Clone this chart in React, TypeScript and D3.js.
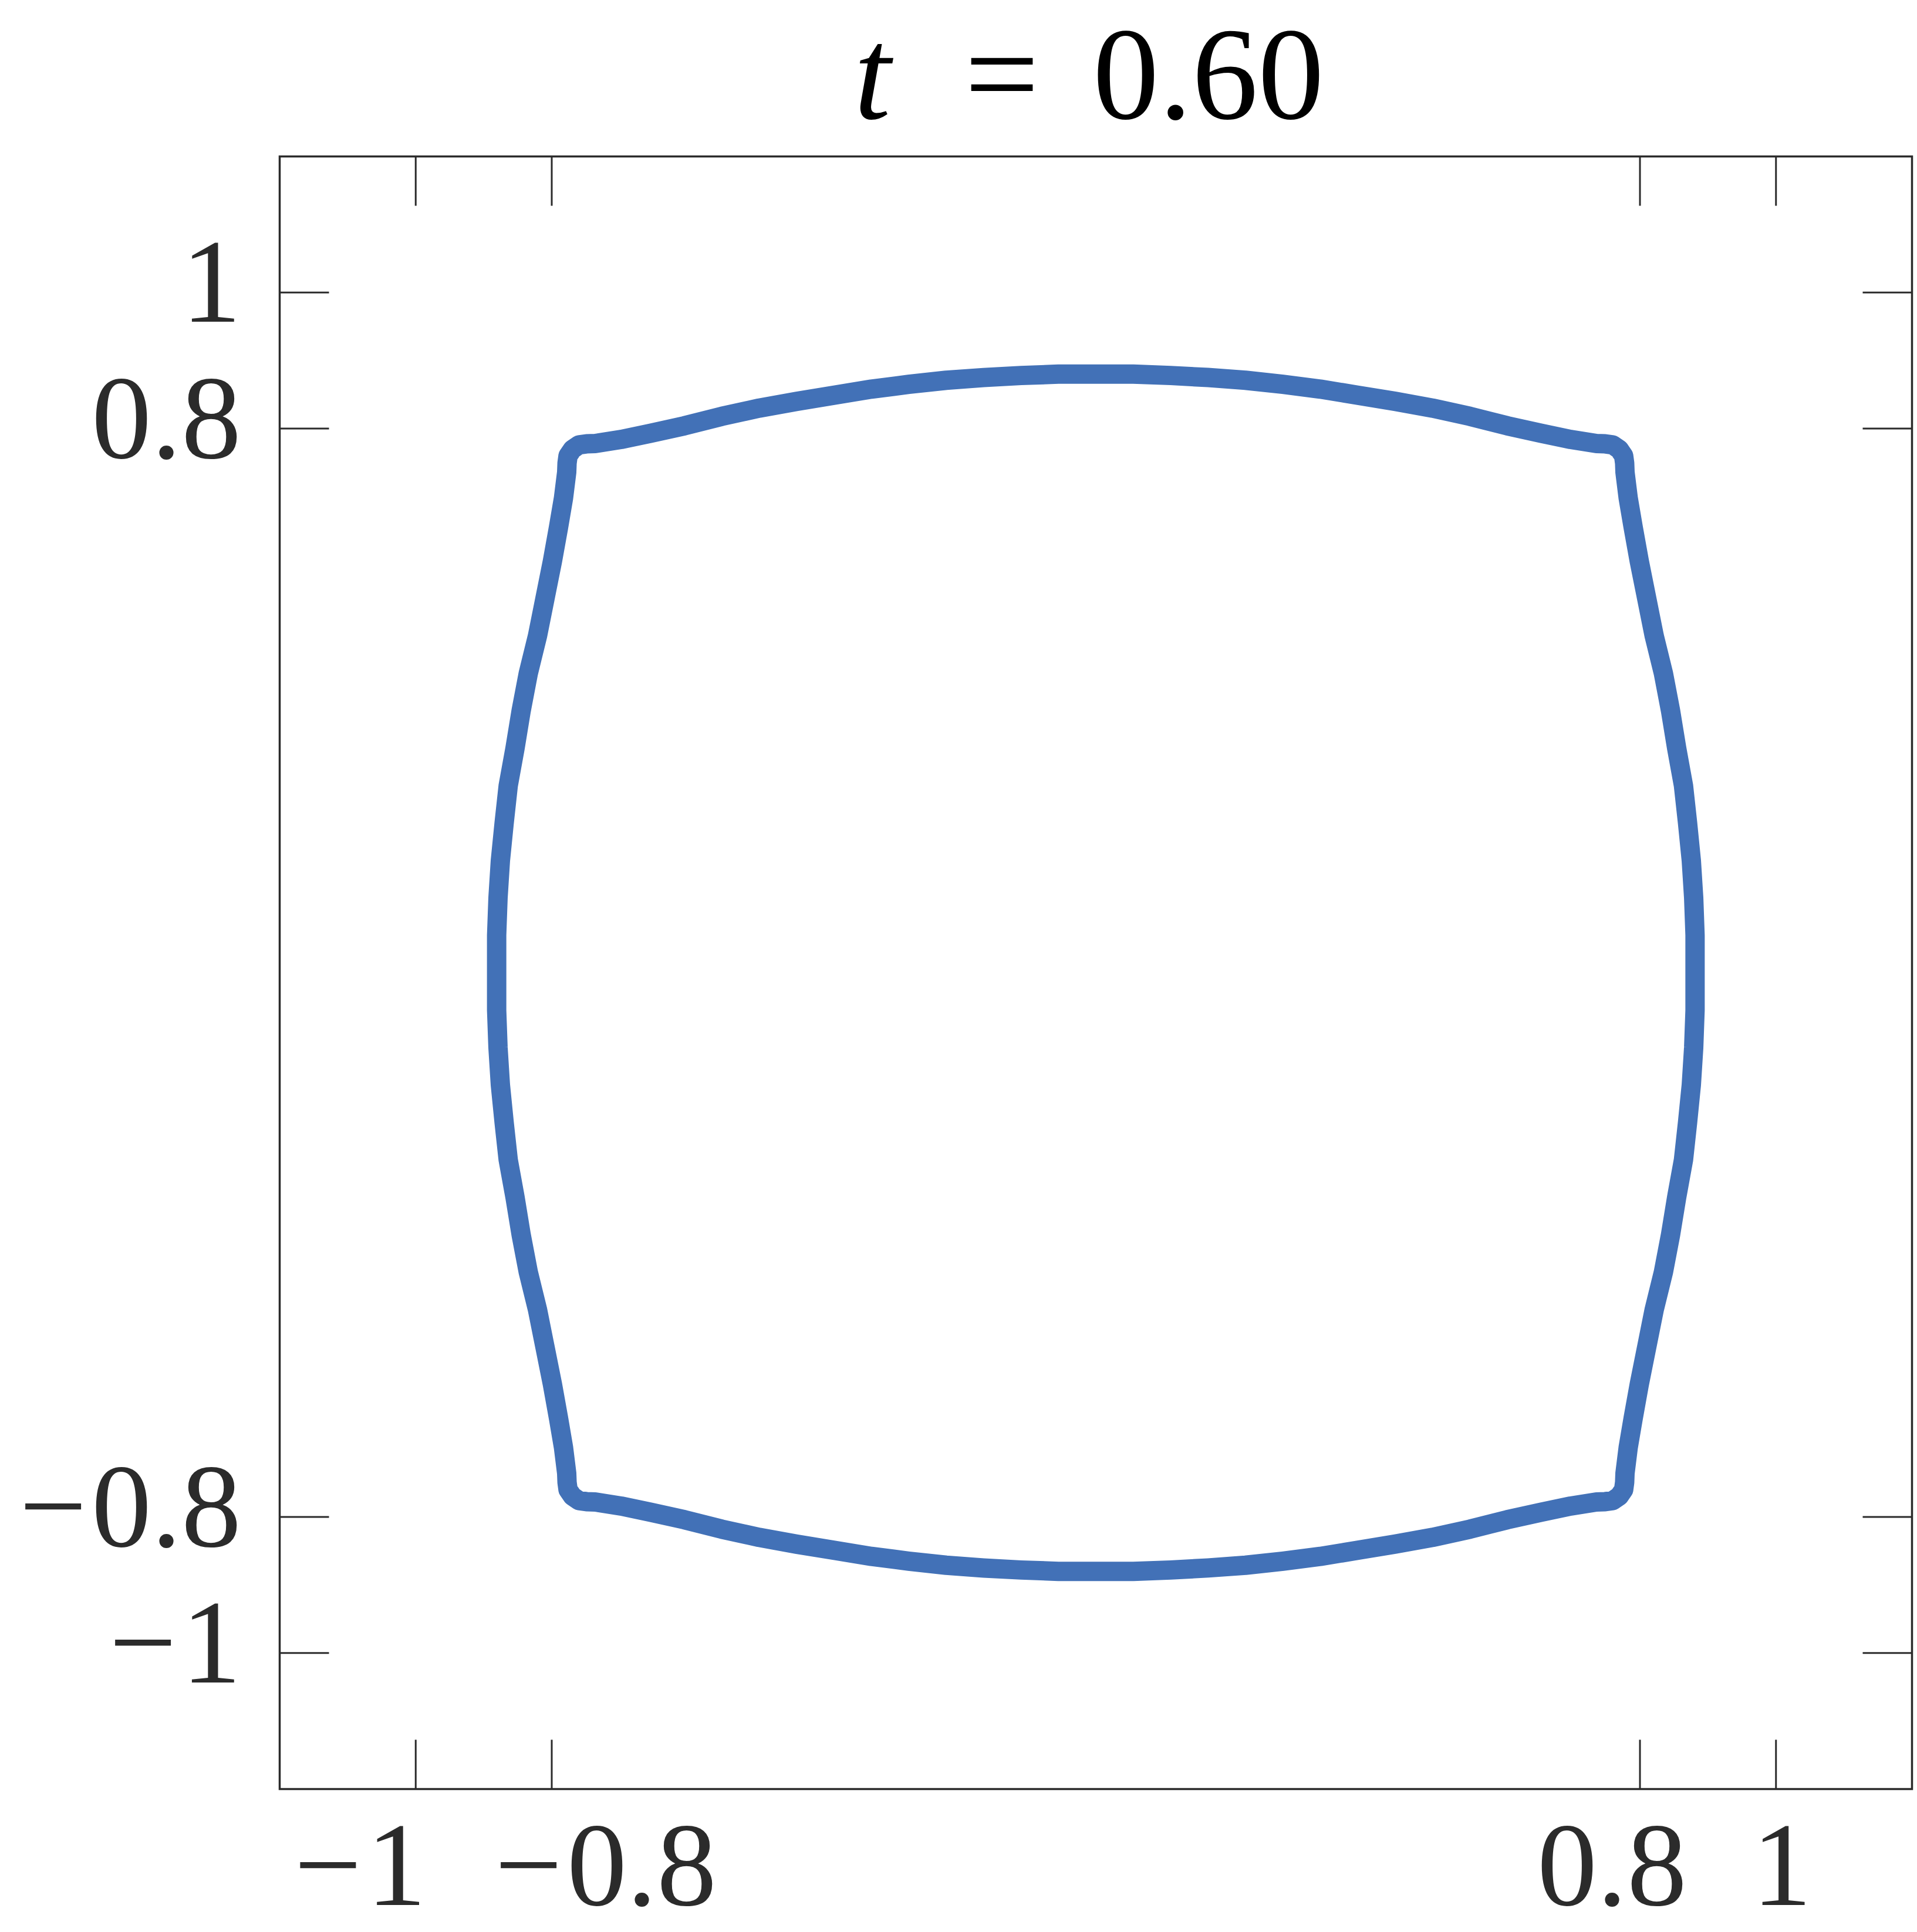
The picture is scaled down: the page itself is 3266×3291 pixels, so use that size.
import React, { useEffect, useRef } from "react";
import * as d3 from "d3";

// interface outline at t = 0.60, clockwise from the top-left corner
const topEdge: [number, number][] = [
  [-0.7695, 0.7695], [-0.76, 0.776], [-0.749, 0.7775], [-0.736, 0.778], [-0.698, 0.784],
  [-0.655, 0.793], [-0.605, 0.804], [-0.55, 0.818], [-0.495, 0.83], [-0.44, 0.84],
  [-0.385, 0.849], [-0.33, 0.858], [-0.275, 0.865], [-0.22, 0.871], [-0.165, 0.875],
  [-0.11, 0.878], [-0.055, 0.88], [0, 0.88], [0.055, 0.88], [0.11, 0.878],
  [0.165, 0.875], [0.22, 0.871], [0.275, 0.865], [0.33, 0.858], [0.385, 0.849],
  [0.44, 0.84], [0.495, 0.83], [0.55, 0.818], [0.605, 0.804], [0.655, 0.793],
  [0.698, 0.784], [0.736, 0.778], [0.749, 0.7775], [0.76, 0.776],
];
const rightEdge: [number, number][] = [
  [0.7695, 0.7695], [0.776, 0.76], [0.7775, 0.749], [0.778, 0.736], [0.7827, 0.698],
  [0.79, 0.655], [0.799, 0.605], [0.81, 0.55], [0.821, 0.495], [0.8345, 0.44],
  [0.845, 0.385], [0.854, 0.33], [0.864, 0.275], [0.87, 0.22], [0.8755, 0.165],
  [0.879, 0.11], [0.881, 0.055], [0.881, 0], [0.881, -0.055], [0.879, -0.11],
  [0.8755, -0.165], [0.87, -0.22], [0.864, -0.275], [0.854, -0.33], [0.845, -0.385],
  [0.8345, -0.44], [0.821, -0.495], [0.81, -0.55], [0.799, -0.605], [0.79, -0.655],
  [0.7827, -0.698], [0.778, -0.736], [0.7775, -0.749], [0.776, -0.76],
];
const bottomEdge: [number, number][] = [
  [0.7695, -0.7695], [0.76, -0.776], [0.749, -0.7775], [0.736, -0.778], [0.698, -0.784],
  [0.655, -0.793], [0.605, -0.804], [0.55, -0.818], [0.495, -0.83], [0.44, -0.84],
  [0.385, -0.849], [0.33, -0.858], [0.275, -0.865], [0.22, -0.871], [0.165, -0.875],
  [0.11, -0.878], [0.055, -0.88], [0, -0.88], [-0.055, -0.88], [-0.11, -0.878],
  [-0.165, -0.875], [-0.22, -0.871], [-0.275, -0.865], [-0.33, -0.858], [-0.385, -0.849],
  [-0.44, -0.84], [-0.495, -0.83], [-0.55, -0.818], [-0.605, -0.804], [-0.655, -0.793],
  [-0.698, -0.784], [-0.736, -0.778], [-0.749, -0.7775], [-0.76, -0.776],
];
const leftEdge: [number, number][] = [
  [-0.7695, -0.7695], [-0.776, -0.76], [-0.7775, -0.749], [-0.778, -0.736], [-0.7827, -0.698],
  [-0.79, -0.655], [-0.799, -0.605], [-0.81, -0.55], [-0.821, -0.495], [-0.8345, -0.44],
  [-0.845, -0.385], [-0.854, -0.33], [-0.864, -0.275], [-0.87, -0.22], [-0.8755, -0.165],
  [-0.879, -0.11], [-0.881, -0.055], [-0.881, 0], [-0.881, 0.055], [-0.879, 0.11],
  [-0.8755, 0.165], [-0.87, 0.22], [-0.864, 0.275], [-0.854, 0.33], [-0.845, 0.385],
  [-0.8345, 0.44], [-0.821, 0.495], [-0.81, 0.55], [-0.799, 0.605], [-0.79, 0.655],
  [-0.7827, 0.698], [-0.778, 0.736], [-0.7775, 0.749], [-0.776, 0.76],
];

const xTicks = [-1, -0.8, 0.8, 1];
const yTicks = [-1, -0.8, 0.8, 1];
const tickLabels = ["-1", "-0.8", "0.8", "1"];
const timeLabel = "0.60";

const W = 3266;
const H = 3291;

const App = () => {
  const ref = useRef<SVGSVGElement>(null);

  useEffect(() => {
    const svg = d3.select(ref.current);
    svg.selectAll("*").remove();

    const left = 476.5, right = 3257.5, top = 266.5, bottom = 3047.5;
    const x = d3.scaleLinear().domain([-1.2, 1.2]).range([left, right]);
    const y = d3.scaleLinear().domain([-1.2, 1.2]).range([bottom, top]);
    const ink = "#2b2b2b";
    const tickLen = 84;
    const font = "'Liberation Serif', 'Times New Roman', serif";

    // title
    const title = svg.append("text")
      .attr("y", 202)
      .attr("font-family", font)
      .attr("font-size", 225)
      .attr("fill", "#000");
    title.append("tspan").attr("x", 1455).attr("font-style", "italic").text("t");
    title.append("tspan").attr("x", 1707).attr("text-anchor", "middle").text("=");
    title.append("tspan").attr("x", 1862).text(timeLabel);

    // the curve (a polyline, as in the original)
    const line = d3.line<[number, number]>()
      .x(d => x(d[0]))
      .y(d => y(d[1]))
      .curve(d3.curveLinearClosed);

    svg.append("path")
      .datum([...topEdge, ...rightEdge, ...bottomEdge, ...leftEdge])
      .attr("d", line)
      .attr("fill", "none")
      .attr("stroke", "#4271b7")
      .attr("stroke-width", 33)
      .attr("stroke-linejoin", "round");

    // ticks on all four sides, pointing inward
    const tg = svg.append("g").attr("stroke", ink).attr("stroke-width", 3);
    xTicks.forEach(v => {
      tg.append("line").attr("x1", x(v)).attr("x2", x(v)).attr("y1", bottom).attr("y2", bottom - tickLen);
      tg.append("line").attr("x1", x(v)).attr("x2", x(v)).attr("y1", top).attr("y2", top + tickLen);
    });
    yTicks.forEach(v => {
      tg.append("line").attr("y1", y(v)).attr("y2", y(v)).attr("x1", left).attr("x2", left + tickLen);
      tg.append("line").attr("y1", y(v)).attr("y2", y(v)).attr("x1", right).attr("x2", right - tickLen);
    });

    // frame
    svg.append("rect")
      .attr("x", left).attr("y", top)
      .attr("width", right - left).attr("height", bottom - top)
      .attr("fill", "none")
      .attr("stroke", ink)
      .attr("stroke-width", 3.5);

    // tick label with a math minus, a little apart from the digits
    const label = (sel: any, s: string) => {
      if (s.startsWith("-")) {
        sel.append("tspan").text("\u2212");
        sel.append("tspan").attr("dx", 8).text(s.slice(1));
      } else {
        sel.append("tspan").text(s);
      }
    };

    // x labels are right-aligned with the nudges seen in the original layout
    const xShift = [18, 281, 80, 61];
    svg.selectAll(".xlab")
      .data(xTicks)
      .enter()
      .append("text")
      .attr("class", "xlab")
      .attr("x", (d, i) => x(d) + xShift[i])
      .attr("y", 3245)
      .attr("text-anchor", "end")
      .attr("font-family", font)
      .attr("font-size", 204)
      .attr("fill", ink)
      .each(function (d, i) { label(d3.select(this), tickLabels[i]); });

    svg.selectAll(".ylab")
      .data(yTicks)
      .enter()
      .append("text")
      .attr("class", "ylab")
      .attr("x", 411)
      .attr("y", d => y(d) + 50)
      .attr("text-anchor", "end")
      .attr("font-family", font)
      .attr("font-size", 204)
      .attr("fill", ink)
      .each(function (d, i) { label(d3.select(this), tickLabels[i]); });
  }, []);

  return (
    <svg
      ref={ref}
      width={W}
      height={H}
      style={{ position: "absolute", left: 0, top: 0, background: "#fff" }}
    />
  );
};

export default App;
